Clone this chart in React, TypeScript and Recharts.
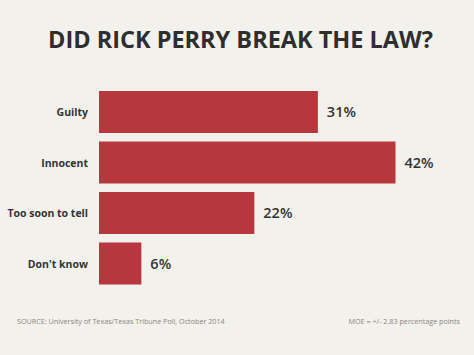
import React from 'react';
import { BarChart, Bar, XAxis, YAxis, LabelList } from 'recharts';

const categories = ['Guilty', 'Innocent', 'Too soon to tell', "Don't know"];
const shares = [31, 42, 22, 6];

const data = categories.map((name, i) => ({ name, value: shares[i] }));

const font = '"Open Sans", sans-serif';

// plain text tick so long labels never wrap
const CategoryTick = (props: any) => {
  const { x, y, payload } = props;
  return (
    <text
      x={x}
      y={y}
      dy={4}
      textAnchor="end"
      fontSize={10.5}
      fontWeight={700}
      fill="#333"
      fontFamily={font}
    >
      {payload.value}
    </text>
  );
};

function App() {
  return (
    <div
      style={{
        position: 'absolute',
        top: 0,
        left: 0,
        width: 474,
        height: 355,
        background: '#f3f1ec',
        fontFamily: font,
        overflow: 'hidden',
      }}
    >
      <div
        style={{
          position: 'absolute',
          top: 23,
          left: 0,
          width: 481,
          textAlign: 'center',
          fontSize: 23.5,
          fontWeight: 700,
          color: '#2e2e2e',
          lineHeight: '32px',
        }}
      >
        DID RICK PERRY BREAK THE LAW?
      </div>
      <BarChart
        width={474}
        height={355}
        data={data}
        layout="vertical"
        margin={{ top: 87, right: 22, bottom: 66, left: 0 }}
      >
        <XAxis type="number" domain={[0, 50]} hide />
        <YAxis
          type="category"
          dataKey="name"
          width={99}
          tickLine={false}
          axisLine={false}
          tickSize={0}
          tickMargin={11}
          tick={<CategoryTick />}
        />
        <Bar dataKey="value" fill="#b8363d" barSize={42} isAnimationActive={false}>
          <LabelList
            dataKey="value"
            position="right"
            offset={9}
            formatter={(v: number) => `${v}%`}
            style={{ fontSize: 14.5, fontWeight: 600, fill: '#333', fontFamily: font }}
          />
        </Bar>
      </BarChart>
      <div
        style={{
          position: 'absolute',
          top: 316,
          left: 17,
          fontSize: 7.2,
          color: '#8a8580',
        }}
      >
        SOURCE: University of Texas/Texas Tribune Poll, October 2014
      </div>
      <div
        style={{
          position: 'absolute',
          top: 316,
          right: 14,
          fontSize: 7.2,
          color: '#8a8580',
        }}
      >
        MOE = +/- 2.83 percentage points
      </div>
    </div>
  );
}

export default App;
